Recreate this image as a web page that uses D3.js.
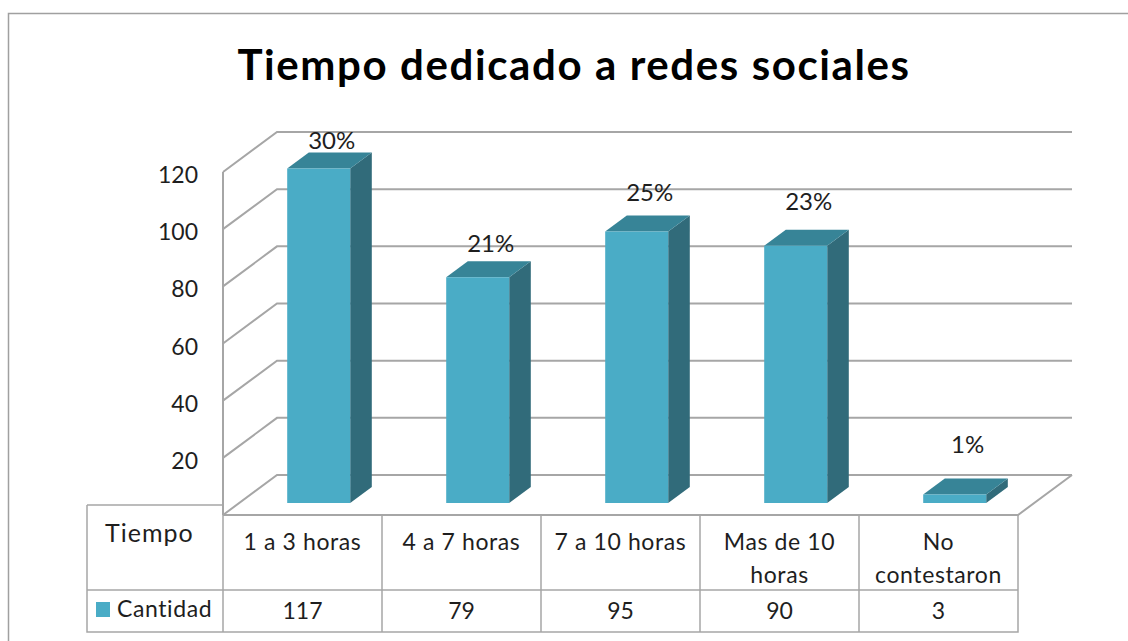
<!DOCTYPE html>
<html>
<head>
<meta charset="utf-8">
<style>
    body { margin: 0; background: #fff; }
    text { font-family: Lato, "Open Sans", sans-serif; fill: #1e1e1e; }
</style>
</head>
<body>
<script src="https://d3js.org/d3.v7.min.js"></script>
<script>
// data
const categories = ["1 a 3 horas", "4 a 7 horas", "7 a 10 horas", "Mas de 10 horas", "No contestaron"];
const catLines = [["1 a 3 horas"], ["4 a 7 horas"], ["7 a 10 horas"], ["Mas de 10", "horas"], ["No", "contestaron"]];
const cantidad = [117, 79, 95, 90, 3];
const pctLabels = ["30%", "21%", "25%", "23%", "1%"];
const yTicks = [20, 40, 60, 80, 100, 120];

const W = 1128, H = 641;
const svg = d3.select("body").append("svg")
    .attr("width", W)
    .attr("height", H);

// frame of the chart area
svg.append("path")
    .attr("d", "M8.5," + H + "V13.5H" + W)
    .attr("fill", "none")
    .attr("stroke", "#a0a0a0")
    .attr("stroke-width", 1.5);

svg.append("text")
    .attr("x", 574)
    .attr("y", 80)
    .attr("text-anchor", "middle")
    .attr("font-size", 42)
    .attr("font-weight", "bold")
    .attr("letter-spacing", 1.6)
    .style("fill", "#000")
    .text("Tiempo dedicado a redes sociales");

// front plane scales, depth goes up-right
const x = d3.scaleBand().domain(categories).range([223, 1018]).padding(0);
const y = d3.scaleLinear().domain([0, 120]).range([515, 172]);
const DX = 54, DY = 40;
const P = (px, v, d) => [px + d * DX, y(v) - d * DY];

const grid = svg.append("g")
    .attr("fill", "none")
    .attr("stroke", "#a6a6a6")
    .attr("stroke-width", 2);

// side wall front edge
grid.append("line")
    .attr("x1", 223).attr("x2", 223)
    .attr("y1", y(120)).attr("y2", y(0));

// floor
const f0 = P(223, 0, 0), f1 = P(1018, 0, 0), f2 = P(1018, 0, 1);
grid.append("path")
    .attr("d", "M" + f0 + "L" + f1 + "L" + f2);

[0].concat(yTicks).forEach(t => {
    const a = P(223, t, 0), b = P(223, t, 1), c = P(1018, t, 1);
    grid.append("path").attr("d", "M" + a + "L" + b + "L" + c);
});

// y tick labels
svg.append("g").selectAll("text")
    .data(yTicks)
    .join("text")
    .attr("x", 198)
    .attr("y", d => y(d) + 11)
    .attr("text-anchor", "end")
    .attr("font-size", 23)
    .text(d => d);

// 3d bars
const bw = 63, z0 = 0.3, z1 = 0.7;
const bars = svg.append("g");
categories.forEach((c, i) => {
    const v = cantidad[i];
    const xl = x(c) + (x.bandwidth() - bw) / 2, xr = xl + bw;
    const poly = pts => "M" + pts.join("L") + "Z";
    // side
    bars.append("path")
        .attr("d", poly([P(xr, 0, z0), P(xr, 0, z1), P(xr, v, z1), P(xr, v, z0)]))
        .attr("fill", "#316b7a");
    // top
    bars.append("path")
        .attr("d", poly([P(xl, v, z0), P(xr, v, z0), P(xr, v, z1), P(xl, v, z1)]))
        .attr("fill", "#378497");
    // front
    bars.append("path")
        .attr("d", poly([P(xl, 0, z0), P(xr, 0, z0), P(xr, v, z0), P(xl, v, z0)]))
        .attr("fill", "#4aacc6");
    // label sits a bit higher the further right the bar is
    const fc = (xl + xr) / 2 + z0 * DX;
    const backTop = P(xl, v, z1)[1];
    const gap = 4 + 0.033 * (fc - 318);
    svg.append("text")
        .attr("x", fc + 13)
        .attr("y", backTop - gap)
        .attr("text-anchor", "middle")
        .attr("font-size", 24)
        .text(pctLabels[i]);
});

// data table under the chart
const table = svg.append("g")
    .attr("fill", "none")
    .attr("stroke", "#a6a6a6")
    .attr("stroke-width", 1.5);
const tTop = 515, tMid = 590, tBot = 632, hdrL = 87, hdrTop = 505;
table.append("path").attr("d", "M" + hdrL + "," + hdrTop + "H223");
table.append("path").attr("d", "M" + hdrL + "," + hdrTop + "V" + tBot + "H1018V" + tTop);
table.append("path").attr("d", "M" + hdrL + "," + tMid + "H1018");
categories.forEach(c => {
    table.append("line")
        .attr("x1", x(c)).attr("x2", x(c))
        .attr("y1", c === categories[0] ? hdrTop : tTop).attr("y2", tBot);
});

svg.append("text")
    .attr("x", 105).attr("y", 542)
    .attr("font-size", 25)
    .attr("letter-spacing", 1)
    .text("Tiempo");

svg.append("rect")
    .attr("x", 96).attr("y", 602)
    .attr("width", 14).attr("height", 15)
    .attr("fill", "#4aacc6");
svg.append("text")
    .attr("x", 117).attr("y", 617)
    .attr("font-size", 23)
    .attr("letter-spacing", 0.6)
    .text("Cantidad");

categories.forEach((c, i) => {
    const cx = x(c) + x.bandwidth() / 2;
    catLines[i].forEach((ln, j) => {
        svg.append("text")
            .attr("x", cx).attr("y", 550 + j * 33)
            .attr("text-anchor", "middle")
            .attr("font-size", 23)
            .attr("letter-spacing", 0.6)
            .text(ln);
    });
    svg.append("text")
        .attr("x", cx).attr("y", 619)
        .attr("text-anchor", "middle")
        .attr("font-size", 23)
        .text(cantidad[i]);
});
</script>
</body>
</html>
